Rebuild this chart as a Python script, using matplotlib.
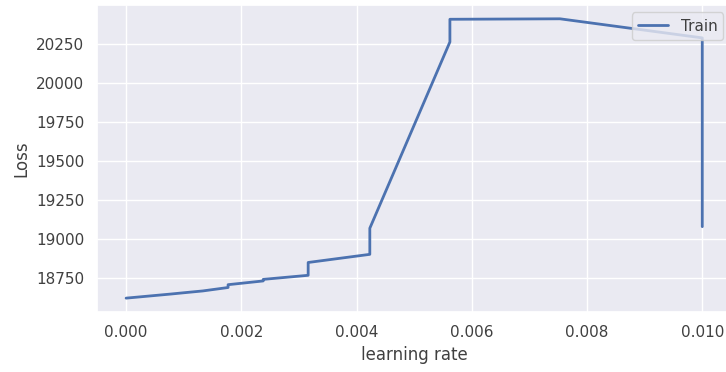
import numpy as np
import matplotlib.pyplot as plt
import seaborn as sns

sns.set_theme()
plt.rcParams['text.color'] = '.25'
plt.rcParams['axes.labelcolor'] = '.25'
plt.rcParams['xtick.color'] = '.25'
plt.rcParams['ytick.color'] = '.25'

# learning rate sweep
lr = [0.0, 0.00077, 0.00099, 0.00133, 0.00177, 0.00177, 0.00238, 0.00238,
      0.00316, 0.00316, 0.00423, 0.00423, 0.00562, 0.00562, 0.00753,
      0.01, 0.01]
loss = [18622, 18648, 18656, 18668, 18690, 18708, 18732, 18742,
        18768, 18850, 18902, 19069, 20260, 20405, 20408,
        20286, 19079]

fig = plt.figure(figsize=(7.26, 3.72), dpi=100)
ax = fig.add_axes([0.134, 0.161, 0.873, 0.826])
ax.plot(lr, loss, label="Train", color="#4c72b0", linewidth=2)
ax.set_xlabel("learning rate")
ax.set_ylabel("Loss")
ax.legend(loc="upper right")

fig.savefig("out.png", dpi=100)
